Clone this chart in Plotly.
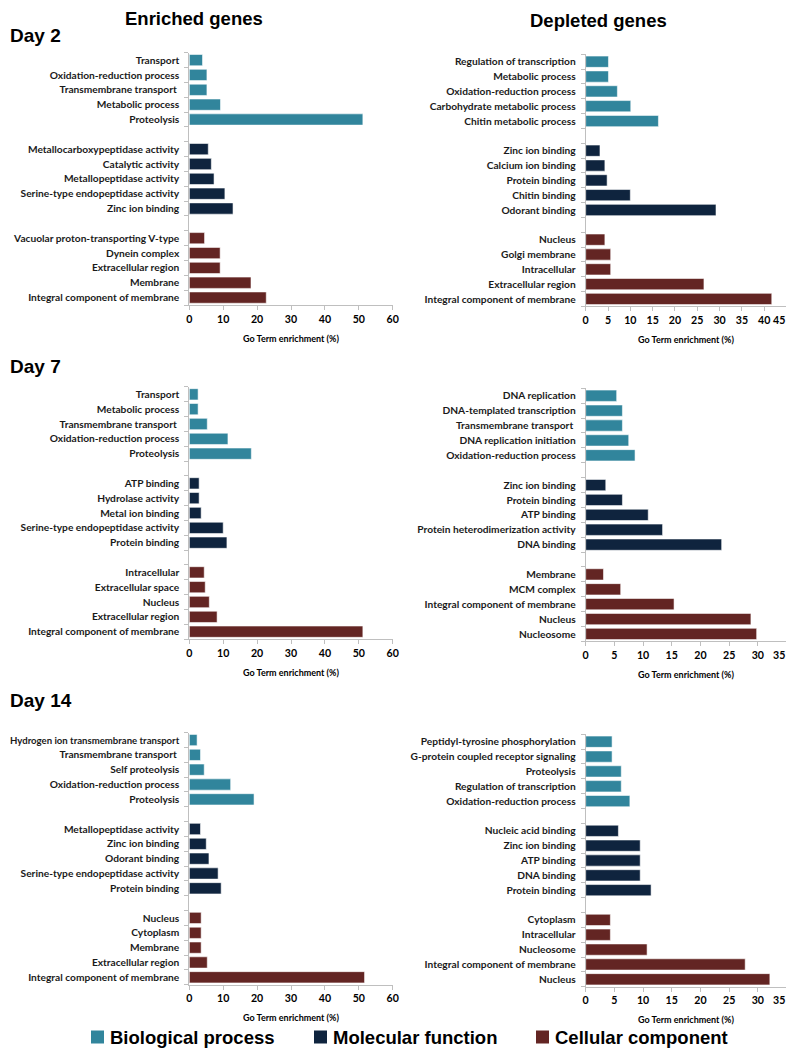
import plotly.graph_objects as go

# ---------------- data ----------------
groups = ["Biological process", "Molecular function", "Cellular component"]
group_colors = ["#31859C", "#0F243E", "#632523"]

day2_enriched_terms = [
    "Transport", "Oxidation-reduction process", "Transmembrane transport ", "Metabolic process", "Proteolysis",
    "Metallocarboxypeptidase activity", "Catalytic activity", "Metallopeptidase activity",
    "Serine-type endopeptidase activity", "Zinc ion binding",
    "Vacuolar proton-transporting V-type", "Dynein complex", "Extracellular region", "Membrane",
    "Integral component of membrane"]
day2_enriched_values = [3.9, 5.2, 5.2, 9.2, 51.2,
                        5.6, 6.5, 7.3, 10.5, 12.9,
                        4.5, 9.1, 9.1, 18.2, 22.7]

day2_depleted_terms = [
    "Regulation of transcription", "Metabolic process", "Oxidation-reduction process",
    "Carbohydrate metabolic process", "Chitin metabolic process",
    "Zinc ion binding", "Calcium ion binding", "Protein binding", "Chitin binding", "Odorant binding",
    "Nucleus", "Golgi membrane", "Intracellular", "Extracellular region", "Integral component of membrane"]
day2_depleted_values = [5.1, 5.1, 7.1, 10.1, 16.3,
                        3.2, 4.3, 4.8, 10.0, 29.2,
                        4.3, 5.6, 5.6, 26.5, 41.7]

day7_enriched_terms = [
    "Transport", "Metabolic process", "Transmembrane transport ", "Oxidation-reduction process", "Proteolysis",
    "ATP binding", "Hydrolase activity", "Metal ion binding", "Serine-type endopeptidase activity",
    "Protein binding",
    "Intracellular", "Extracellular space", "Nucleus", "Extracellular region", "Integral component of membrane"]
day7_enriched_values = [2.6, 2.6, 5.3, 11.4, 18.3,
                        2.9, 2.9, 3.5, 10.0, 11.1,
                        4.4, 4.7, 5.9, 8.2, 51.2]

day7_depleted_terms = [
    "DNA replication", "DNA-templated transcription", "Transmembrane transport ",
    "DNA replication initiation", "Oxidation-reduction process",
    "Zinc ion binding", "Protein binding", "ATP binding", "Protein heterodimerization activity", "DNA binding",
    "Membrane", "MCM complex", "Integral component of membrane", "Nucleus", "Nucleosome"]
day7_depleted_values = [5.4, 6.4, 6.4, 7.5, 8.6,
                        3.5, 6.4, 10.9, 13.4, 23.7,
                        3.1, 6.1, 15.4, 28.8, 29.8]

day14_enriched_terms = [
    "Hydrogen ion transmembrane transport", "Transmembrane transport ", "Self proteolysis",
    "Oxidation-reduction process", "Proteolysis",
    "Metallopeptidase activity", "Zinc ion binding", "Odorant binding", "Serine-type endopeptidase activity",
    "Protein binding",
    "Nucleus", "Cytoplasm", "Membrane", "Extracellular region", "Integral component of membrane"]
day14_enriched_values = [2.3, 3.3, 4.4, 12.2, 19.1,
                         3.3, 5.0, 5.8, 8.5, 9.4,
                         3.5, 3.5, 3.5, 5.3, 51.7]

day14_depleted_terms = [
    "Peptidyl-tyrosine phosphorylation", "G-protein coupled receptor signaling", "Proteolysis",
    "Regulation of transcription", "Oxidation-reduction process",
    "Nucleic acid binding", "Zinc ion binding", "ATP binding", "DNA binding", "Protein binding",
    "Cytoplasm", "Intracellular", "Nucleosome", "Integral component of membrane", "Nucleus"]
day14_depleted_values = [4.6, 4.6, 6.2, 6.2, 7.7,
                         5.7, 9.5, 9.5, 9.5, 11.4,
                         4.3, 4.3, 10.7, 27.8, 32.1]

column_titles = ["Enriched genes", "Depleted genes"]
day_labels = ["Day 2", "Day 7", "Day 14"]
x_axis_title = "Go Term enrichment (%)"
x_max = [60, 45, 60, 35, 60, 35]
x_step = [10, 5, 10, 5, 10, 5]

# ---------------- layout geometry (viewport pixels) ----------------
# the page body has an 8px margin, so the figure starts at (8, 8)
OFF = 8
W, H = 794 - OFF, 1056 - 2 * OFF
VISIBLE_RIGHT = 786.5
def fx(p):
    return (p - OFF) / W
def fy(p):
    return 1 - (p - OFF) / H

panel_data = [
    (day2_enriched_terms, day2_enriched_values),
    (day2_depleted_terms, day2_depleted_values),
    (day7_enriched_terms, day7_enriched_values),
    (day7_depleted_terms, day7_depleted_values),
    (day14_enriched_terms, day14_enriched_values),
    (day14_depleted_terms, day14_depleted_values),
]
# (x0, x1, ytop, ybottom) in viewport pixels
panel_boxes = [
    (189.3, 392.7, 52.7, 305.0),
    (585.7, 786.5, 54.3, 306.4),
    (189.3, 392.7, 386.9, 639.1),
    (585.7, 786.5, 388.3, 641.4),
    (189.3, 392.7, 732.6, 984.7),
    (585.7, 786.5, 734.3, 986.7),
]

label_font = dict(family="Lato", size=10.2, color="#1a1a1a", weight="bold")
tick_font = dict(family="Lato", size=10.6, color="#000000", weight="bold")
axis_color = "#BFBFBF"

def fit_label(t, left_column):
    # a very long label in the left column would run past the page edge: set it a little smaller
    if left_column and len(t) > 35:
        return f"<span style='font-size:9.6px'>{t}</span>"
    return t

fig = go.Figure()
annotations = []
shapes = []

for k, ((terms, values), box) in enumerate(zip(panel_data, panel_boxes)):
    n = k + 1
    xa = "x" if n == 1 else f"x{n}"
    ya = "y" if n == 1 else f"y{n}"
    positions = []
    for g in range(3):
        pos = [g * 6 + i for i in range(5)]
        positions += pos
        fig.add_trace(go.Bar(
            x=values[g * 5:(g + 1) * 5], y=pos, orientation="h",
            marker=dict(color=group_colors[g], line=dict(color="rgba(255,255,255,0.7)", width=0.8)),
            width=0.76, name=groups[g], showlegend=False,
            xaxis=xa, yaxis=ya, hoverinfo="x+text", text=terms[g * 5:(g + 1) * 5], textposition="none"))
    x0, x1, yt, yb = box
    tvals = list(range(0, x_max[k] + 1, x_step[k]))
    right_col = (k % 2 == 1)
    # in the right column the last tick label sits at the page edge; it is set flush right instead
    ttext = [str(v) for v in tvals]
    if right_col:
        ttext[-1] = ""
        annotations.append(dict(
            x=fx(VISIBLE_RIGHT), y=fy(yb + 13.5), xref="paper", yref="paper",
            text=str(tvals[-1]), showarrow=False, xanchor="right", yanchor="middle",
            font=tick_font))
    fig.layout[f"xaxis{'' if n == 1 else n}"] = dict(
        domain=[fx(x0), fx(x1)], anchor=ya, range=[0, x_max[k]],
        tickmode="array", tickvals=tvals, ticktext=ttext,
        ticks="outside", ticklen=4, tickcolor=axis_color, tickwidth=1,
        showline=True, linecolor=axis_color, linewidth=1, automargin=False,
        ticklabeloverflow="allow",
        showgrid=False, zeroline=False, tickfont=tick_font, fixedrange=True)
    fig.layout[f"yaxis{'' if n == 1 else n}"] = dict(
        domain=[fy(yb), fy(yt)], anchor=xa, range=[16.5, -0.5],
        tickmode="array", tickvals=positions,
        ticktext=[fit_label(t, k % 2 == 0) for t in terms],
        ticks="", showline=True, linecolor=axis_color, linewidth=1, automargin=False,
        showgrid=False, zeroline=False, tickfont=label_font, ticklabelstandoff=7,
        minor=dict(tickmode="array", tickvals=[-0.5 + j for j in range(18)],
                   ticks="outside", ticklen=4, tickcolor=axis_color, tickwidth=1, showgrid=False),
        fixedrange=True)
    annotations.append(dict(
        x=fx((x0 + x1) / 2), y=fy(yb + 33), xref="paper", yref="paper",
        text=x_axis_title, showarrow=False, xanchor="center", yanchor="middle",
        font=dict(family="Lato", size=9, color="#000000", weight="bold")))

# column titles
for t, cx, cy in zip(column_titles, [194, 598], [19, 21]):
    annotations.append(dict(x=fx(cx), y=fy(cy), xref="paper", yref="paper", text=t,
                            showarrow=False, xanchor="center", yanchor="middle",
                            font=dict(family="Liberation Sans", size=18.5, color="#000", weight="bold")))
# day labels
for t, cy in zip(day_labels, [35, 366, 700]):
    annotations.append(dict(x=fx(8), y=fy(cy), xref="paper", yref="paper", text=t,
                            showarrow=False, xanchor="left", yanchor="middle",
                            font=dict(family="Liberation Sans", size=19, color="#000", weight="bold")))

# legend (manual)
leg_x = [91, 314, 536]
leg_y = 1037
for g in range(3):
    shapes.append(dict(type="rect", xref="paper", yref="paper",
                       x0=fx(leg_x[g]), x1=fx(leg_x[g] + 13), y0=fy(leg_y + 6.5), y1=fy(leg_y - 6.5),
                       fillcolor=group_colors[g], line=dict(width=0)))
    annotations.append(dict(x=fx(leg_x[g] + 17), y=fy(leg_y), xref="paper", yref="paper", text=groups[g],
                            showarrow=False, xanchor="left", yanchor="middle",
                            font=dict(family="Liberation Sans", size=18.5, color="#000", weight="bold")))

fig.update_layout(
    width=W, height=H, margin=dict(l=0, r=0, t=0, b=0, autoexpand=False),
    paper_bgcolor="white", plot_bgcolor="white",
    annotations=annotations, shapes=shapes, bargap=0.24, showlegend=False)

fig.write_html("out.html")
